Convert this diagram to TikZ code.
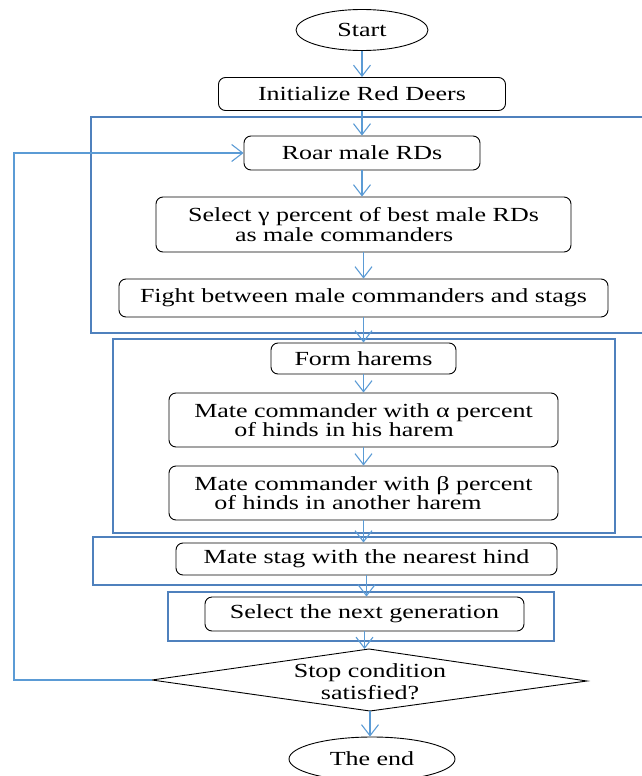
\documentclass[tikz,border=0pt]{standalone}
\usepackage{fontspec}
\setmainfont[FakeStretch=1.3]{Liberation Serif}
\usetikzlibrary{shapes.geometric,arrows.meta}
\definecolor{conn}{HTML}{5B9BD5}
\definecolor{framec}{HTML}{4F81BD}
\begin{document}
\begin{tikzpicture}[x=1pt,y=-1pt,
  proc/.style={draw=black,line width=0.9pt,rounded corners=7pt,inner sep=0pt,
    font=\fontsize{20}{17.5}\selectfont},
  term/.style={draw=black,ellipse,line width=0.9pt,inner sep=0pt,
    font=\fontsize{20}{17.5}\selectfont},
  flow/.style={draw=conn,line width=1.1pt,-{Straight Barb[length=11pt,width=17pt]}},
  grp/.style={draw=framec,line width=1.3pt}]
\useasboundingbox (0,0) rectangle (641,776);
% group frames
\draw[grp] (645,117) -- (91,117) -- (91,333) -- (645,333);
\draw[grp] (113,339) rectangle (615,533);
\draw[grp] (645,537) -- (93,537) -- (93,585) -- (645,585);
\draw[grp] (168,592) rectangle (554,641);
% nodes
\node[term,minimum width=132pt,minimum height=41pt] (start) at (362,30) {Start};
\node[proc,minimum width=287pt,minimum height=33pt] (init) at (362,94) {Initialize Red Deers};
\node[proc,minimum width=236pt,minimum height=34pt] (roar) at (362,153) {Roar male RDs};
\node[proc,minimum width=415pt,minimum height=55pt,align=left] (sel) at (363.5,224.5)
  {Select γ percent of best male RDs\\\hspace*{47pt}as male commanders};
\node[proc,minimum width=489pt,minimum height=38pt] (fight) at (363.5,298) {Fight between male commanders and stags};
\node[proc,minimum width=185pt,minimum height=31pt] (form) at (363.5,358.5) {Form harems};
\node[proc,minimum width=389pt,minimum height=54pt,align=left] (alpha) at (363.5,420)
  {Mate commander with α percent\\\hspace*{40pt}of hinds in his harem};
\node[proc,minimum width=389pt,minimum height=54pt,align=left] (beta) at (363.5,493)
  {Mate commander with β percent\\\hspace*{20pt}of hinds in another harem};
\node[proc,minimum width=381pt,minimum height=32pt] (stag) at (366.5,559) {Mate stag with the nearest hind};
\node[proc,minimum width=319pt,minimum height=34pt] (next) at (364.5,614) {Select the next generation};
% decision
\coordinate (dt) at (369,649);
\coordinate (dr) at (587,681);
\coordinate (db) at (370,711);
\coordinate (dl) at (152,680);
\draw[black,line width=0.9pt] (dt) -- (dr) -- (db) -- (dl) -- cycle;
\node[align=center,inner sep=0pt,font=\fontsize{20}{22}\selectfont] (dec) at (370,682)
  {Stop condition\\satisfied?};
\node[term,minimum width=166pt,minimum height=44pt] (stop) at (372,759) {The end};
% connectors
\draw[flow] (start.south) -- (start.south |- init.north);
\draw[flow] (init.south) -- (init.south |- roar.north);
\draw[flow] (roar.south) -- (roar.south |- sel.north);
\draw[flow] (sel.south) -- (sel.south |- fight.north);
\draw[flow] (fight.south) -- (fight.south |- form.north);
\draw[flow] (form.south) -- (form.south |- alpha.north);
\draw[flow] (alpha.south) -- (alpha.south |- beta.north);
\draw[flow] (beta.south) -- (beta.south |- stag.north);
\draw[flow] (stag.south) -- (stag.south |- next.north);
\draw[flow] (next.south) -- (next.south |- dt);
\draw[flow] (db) -- (db |- stop.north);
\coordinate (lc) at (14,680);
\draw[flow] (dl) -- (lc) |- (roar.west);
\end{tikzpicture}
\end{document}
